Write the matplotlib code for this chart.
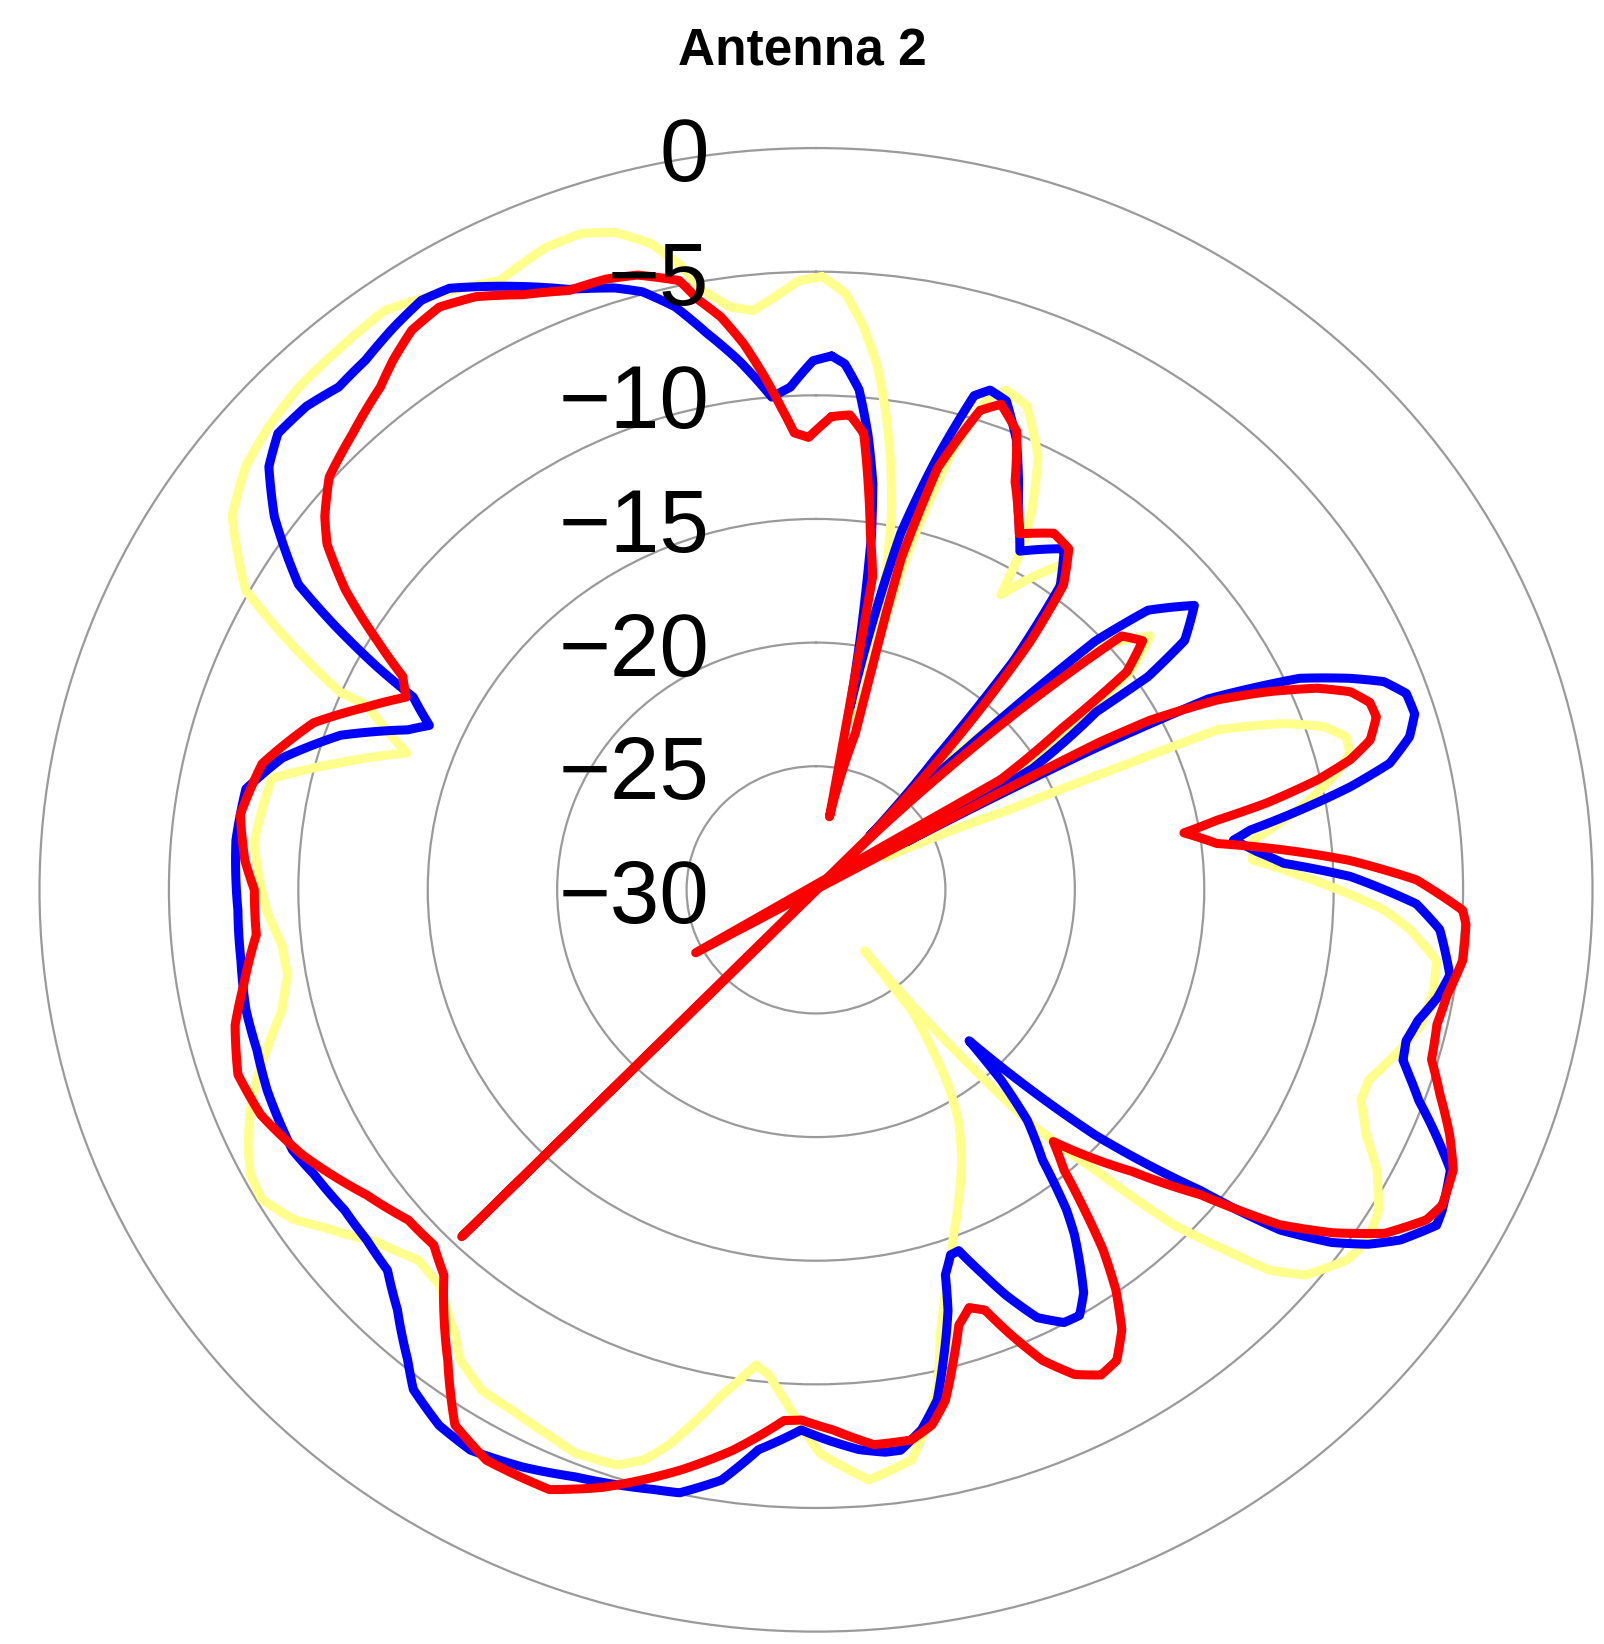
import numpy as np
import matplotlib
matplotlib.use("Agg")
import matplotlib.pyplot as plt
from matplotlib import transforms

plt.rcParams['path.simplify'] = False

# (angle in degrees clockwise from north, level in dB)
red_pattern = [
    (1.8, -10.85), (3.9, -10.75), (5.7, -11.45), (7.0, -13.45), (8.3, -15.45), (9.8, -17.15),
    (9.9, -22.7), (10.0, -27.0), (13.5, -23.5), (13.6, -18.5), (13.8, -16.2), (15.4, -12.3),
    (18.1, -9.6), (20.0, -9.1), (22.7, -9.9), (25.0, -11.8), (28.6, -13.6), (32.5, -12.9),
    (35.3, -13.1), (37.8, -14.4), (39.5, -17.0), (41.5, -21.5), (43.8, -27.0), (44.3, -49.6),
    (44.8, -27.0), (46.0, -23.35), (47.2, -19.4), (49.0, -14.35), (51.4, -13.85),
    (53.7, -15.1), (55.5, -18.5), (58.0, -21.6), (61.3, -35.3), (61.0, -22.0), (61.4, -17.5),
    (62.0, -15.4), (63.65, -12.7), (65.3, -10.85), (67.15, -9.0), (68.8, -7.85), (70.5, -7.3),
    (72.1, -7.25), (74.2, -7.75), (75.7, -8.7), (77.1, -10.15), (78.6, -12.25), (79.7, -14.25),
    (80.8, -15.6), (83.1, -14.4), (84.9, -11.85), (86.7, -9.35), (89.0, -6.8), (91.9, -5.0),
    (93.2, -4.85), (96.5, -4.85), (99.9, -5.25), (102.8, -5.4), (106.1, -5.25), (109.0, -4.5),
    (112.0, -3.6), (114.7, -2.9), (117.8, -2.65), (119.5, -2.9), (122.3, -4.0), (124.8, -5.7),
    (127.1, -7.55), (129.7, -10.7), (133.0, -13.3), (138.0, -16.3), (139.8, -15.15),
    (141.3, -13.4), (142.7, -11.7), (144.4, -10.1), (146.4, -8.65), (148.6, -7.7),
    (150.7, -7.5), (153.0, -8.0), (155.3, -9.05), (157.3, -10.5), (159.0, -11.8),
    (160.7, -12.1), (162.6, -11.55), (164.4, -10.25), (166.4, -8.75), (168.3, -7.9),
    (170.6, -7.45), (174.3, -7.45), (178.3, -8.15), (181.5, -8.55), (183.3, -8.5),
    (188.1, -7.1), (192.6, -5.95), (198.9, -4.45), (203.0, -3.65), (208.9, -3.65),
    (212.8, -4.25), (216.8, -6.25), (222.7, -8.8), (225.8, -9.4), (229.7, -9.35),
    (234.6, -8.7), (241.6, -7.45), (247.0, -6.7), (251.5, -6.45), (256.3, -6.9),
    (260.1, -7.55), (265.2, -8.3), (270.0, -8.3), (273.1, -7.9), (277.8, -7.55), (283.4, -8.0),
    (289.2, -9.45), (293.0, -11.1), (296.2, -12.35), (298.4, -11.85), (300.7, -10.3),
    (303.7, -8.15), (306.5, -6.5), (308.5, -5.75), (311.6, -4.85), (315.8, -4.3),
    (320.4, -3.6), (322.7, -3.05), (325.4, -2.5), (328.3, -2.3), (331.3, -2.65), (334.8, -3.4),
    (338.5, -3.95), (341.8, -4.0), (344.5, -4.2), (347.9, -4.8), (349.2, -5.7), (351.0, -6.55),
    (352.8, -7.75), (354.7, -9.3), (356.0, -10.4), (357.4, -11.5), (359.1, -11.7),
]

blue_pattern = [
    (1.6, -8.4), (3.0, -8.7), (4.7, -9.7), (6.2, -11.45), (7.6, -13.4), (8.5, -15.5),
    (9.5, -19.5), (10.1, -22.5), (12.8, -15.2), (15.0, -11.9), (17.0, -9.1), (18.4, -8.7),
    (20.4, -8.9), (23.0, -10.2), (27.0, -12.8), (29.9, -14.2), (34.8, -13.2), (37.5, -14.5),
    (39.5, -18.0), (41.0, -23.0), (43.5, -27.0), (45.5, -22.0), (47.0, -15.25), (48.6, -12.9),
    (51.8, -11.4), (54.7, -12.55), (56.1, -14.55), (56.4, -17.0), (59.6, -20.3), (61.0, -26.0),
    (62.0, -18.0), (63.0, -13.0), (65.4, -9.45), (67.5, -7.65), (69.0, -6.5), (70.8, -5.85),
    (72.9, -5.8), (74.9, -6.25), (77.0, -7.25), (78.6, -8.95), (80.2, -11.0), (81.8, -13.05),
    (82.9, -13.75), (84.8, -12.9), (86.6, -11.9), (88.5, -9.35), (91.4, -6.8), (93.8, -5.85),
    (98.0, -5.27), (100.3, -5.6), (102.8, -6.15), (105.0, -6.4), (106.9, -6.3), (108.1, -5.9),
    (110.1, -5.2), (111.8, -4.4), (114.8, -3.0), (118.2, -2.55), (119.5, -2.45),
    (122.1, -3.35), (123.9, -4.3), (125.6, -5.5), (127.5, -7.4), (128.5, -9.2), (129.3, -10.8),
    (132.6, -15.35), (135.9, -21.5), (137.1, -19.5), (138.8, -17.6), (141.3, -16.0),
    (143.2, -13.85), (144.4, -12.85), (147.6, -10.7), (149.4, -10.0), (151.3, -10.05),
    (153.7, -10.7), (155.9, -12.05), (157.5, -13.2), (159.3, -14.4), (160.6, -14.35),
    (162.2, -13.65), (163.3, -12.25), (165.5, -10.35), (167.2, -8.85), (169.4, -7.8),
    (171.8, -7.1), (173.3, -7.1), (175.8, -7.3), (178.9, -7.75), (181.5, -8.15),
    (185.6, -7.25), (188.7, -5.85), (192.2, -5.05), (194.5, -4.95), (201.4, -4.5),
    (205.9, -4.05), (210.5, -3.7), (213.9, -3.9), (217.6, -4.5), (219.7, -5.3), (223.6, -6.55),
    (227.1, -7.4), (230.8, -7.6), (234.6, -7.65), (239.3, -7.45), (242.5, -7.2), (249.1, -7.3),
    (253.3, -7.45), (257.6, -7.45), (262.7, -7.6), (267.9, -7.65), (275.1, -7.5),
    (280.5, -7.6), (284.5, -8.7), (288.8, -10.6), (292.3, -12.95), (294.0, -13.65),
    (296.6, -12.6), (298.0, -10.8), (299.9, -8.55), (301.7, -6.5), (305.8, -4.2),
    (309.0, -2.8), (311.6, -2.2), (314.8, -2.25), (317.8, -2.55), (320.9, -2.4),
    (324.4, -2.0), (327.4, -1.7), (329.8, -1.85), (333.4, -2.7), (338.5, -3.9),
    (342.3, -4.45), (344.5, -4.9), (347.0, -5.8), (349.4, -7.1), (352.1, -8.4),
    (355.1, -10.0), (357.2, -9.65), (359.7, -8.6),
]

yellow_pattern = [
    (0.55, -5.2), (2.7, -5.85), (4.6, -7.15), (6.4, -8.7), (8.1, -10.7), (9.6, -12.65),
    (10.9, -14.6), (11.8, -16.65), (12.3, -20.0), (12.7, -23.0), (14.5, -16.0), (16.5, -11.5),
    (18.5, -9.0), (20.0, -8.5), (22.6, -8.8), (26.1, -10.5), (28.4, -12.45), (30.0, -14.1),
    (30.9, -16.1), (33.0, -15.05), (36.0, -13.7), (38.0, -15.0), (40.0, -19.0), (42.5, -26.0),
    (46.0, -20.0), (48.5, -15.0), (51.5, -13.5), (54.0, -15.0), (56.5, -19.0), (60.0, -23.0),
    (64.0, -27.0), (66.5, -22.0), (67.0, -17.5), (67.35, -13.2), (69.6, -10.7), (71.4, -9.3),
    (73.2, -8.6), (75.0, -8.65), (76.8, -9.35), (79.6, -10.8), (83.2, -13.0), (85.9, -13.1),
    (88.2, -11.3), (90.0, -9.8), (92.1, -8.05), (94.0, -7.0), (96.8, -5.85), (99.6, -5.8),
    (103.2, -6.0), (106.6, -6.65), (109.8, -7.3), (112.0, -7.3), (115.0, -6.55),
    (117.6, -5.55), (120.8, -4.7), (123.6, -4.4), (126.1, -4.6), (129.5, -5.5), (131.3, -6.7),
    (132.6, -8.45), (134.4, -10.6), (136.4, -14.35), (138.7, -17.35), (139.8, -20.2),
    (142.7, -26.9), (142.8, -23.9), (145.2, -22.1), (147.1, -20.6), (149.4, -19.2),
    (152.8, -17.7), (156.3, -16.3), (159.2, -15.05), (162.6, -13.25), (163.9, -12.3),
    (165.1, -11.35), (166.8, -9.4), (168.8, -7.95), (170.9, -6.65), (175.1, -6.05),
    (179.6, -7.2), (181.6, -8.35), (183.4, -9.35), (185.3, -10.3), (186.9, -10.65),
    (190.1, -9.25), (192.6, -7.8), (194.2, -6.85), (196.1, -6.0), (198.3, -5.5), (202.2, -5.4),
    (205.1, -5.65), (209.1, -5.9), (212.6, -6.0), (215.9, -6.55), (217.8, -7.25),
    (222.3, -8.4), (225.7, -8.55), (230.0, -7.85), (234.3, -6.6), (236.6, -5.8), (239.7, -5.2),
    (242.2, -5.3), (244.8, -5.75), (247.8, -6.4), (250.4, -7.05), (253.0, -7.8), (256.7, -8.8),
    (260.4, -9.3), (263.8, -9.25), (267.8, -8.75), (275.0, -8.2), (282.1, -8.5),
    (285.6, -10.9), (289.3, -13.25), (293.3, -11.1), (293.5, -9.95), (296.3, -7.25),
    (298.8, -4.85), (303.8, -2.85), (307.8, -2.1), (311.5, -1.75), (315.5, -1.5),
    (319.8, -1.4), (324.6, -1.25), (329.0, -1.85), (333.6, -2.5), (338.1, -2.0),
    (341.2, -1.95), (343.7, -2.3), (346.3, -3.1), (348.2, -4.15), (349.7, -5.35),
    (352.0, -6.2), (354.1, -6.45), (356.3, -5.95), (358.5, -5.35),
]

ring_levels = [0, -5, -10, -15, -20, -25, -30]
r_min = -30


def draw_pattern(ax, pattern, color, z):
    deg, db = np.array(pattern + pattern[:1]).T
    th = np.unwrap(np.deg2rad(deg))
    r = db - r_min
    neg = r < 0
    kw = dict(color=color, lw=6.5, zorder=z, solid_joinstyle='round',
              solid_capstyle='round')
    # normal part follows the polar grid between samples
    line, = ax.plot(th, np.where(neg, np.nan, r), **kw)
    line.get_path()._interpolation_steps = 16
    # levels under -30 dB come out on the other side, as in the original
    for i in np.where(neg)[0]:
        tt = th[i - 1:i + 2].copy()
        rr = r[i - 1:i + 2].copy()
        tt[1] += np.pi
        rr[1] = -rr[1]
        ax.plot(tt, rr, **kw)


fig = plt.figure(figsize=(16.04, 16.44), dpi=100)
ax = fig.add_axes([0.02463, 0.00754, 0.9682, 0.9024], projection='polar')
ax.set_theta_zero_location('N')
ax.set_theta_direction(-1)
ax.set_ylim(0, 30)
ax.set_aspect('auto')

ax.set_thetagrids([])
ax.set_rgrids([5, 10, 15, 20, 25], labels=[])
ax.grid(True, color='#9a9a9a', lw=1.6)
ax.spines['polar'].set_color('#9a9a9a')
ax.spines['polar'].set_linewidth(1.6)

draw_pattern(ax, yellow_pattern, '#FFFF8C', 3)
draw_pattern(ax, blue_pattern, '#0000FF', 4)
draw_pattern(ax, red_pattern, '#FF0000', 5)

lab_tr = transforms.offset_copy(ax.transAxes, fig=fig, x=-107, y=-33, units='dots')
for lv in ring_levels:
    txt = '0' if lv == 0 else '\u2212' + str(abs(lv))
    ax.text(0.5, 0.5 + (lv - r_min) / 60.0, txt, transform=lab_tr, ha='right',
            va='baseline', fontsize=64, family='Liberation Sans', zorder=6)

fig.text(0.5, 1 - 65 / 1644, 'Antenna 2', ha='center', va='baseline', fontsize=37,
         fontweight='bold', family='Liberation Sans')

fig.savefig('out.png', dpi=100)
